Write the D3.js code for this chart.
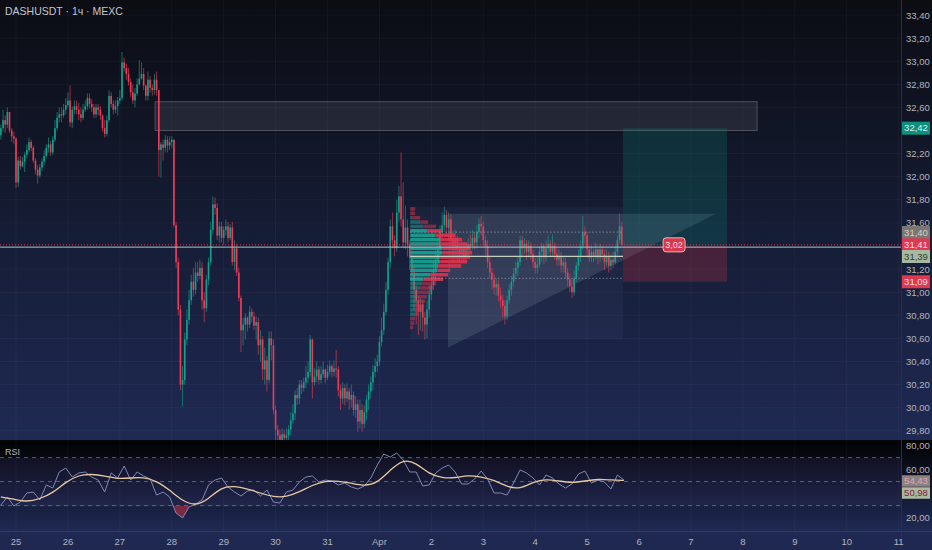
<!DOCTYPE html>
<html>
<head>
<meta charset="utf-8">
<script src="https://cdn.jsdelivr.net/npm/d3@7/dist/d3.min.js"></script>
<style>
  html, body { margin: 0; padding: 0; background: #0b0d13; }
  svg { display: block; font-family: "Liberation Sans", Roboto, sans-serif; }
</style>
</head>
<body>
<div id="chart"></div>
<script>
// hourly candles DASHUSDT, first candle = Mar 24 17:00
var open0 = 32.36;
var closes = [
  32.42,32.49,32.45,32.56,32.40,32.35,32.33,31.95,32.14,32.09,
  32.13,32.19,32.23,32.30,32.25,32.14,32.06,32.01,32.08,32.13,
  32.18,32.25,32.28,32.21,32.32,32.42,32.51,32.54,32.53,32.58,
  32.62,32.66,32.47,32.58,32.61,32.58,32.54,32.51,32.58,32.61,
  32.68,32.63,32.60,32.54,32.60,32.58,32.53,32.42,32.37,32.49,
  32.70,32.63,32.58,32.61,32.66,32.68,32.99,32.94,32.89,32.82,
  32.73,32.66,32.72,32.80,32.85,32.89,32.79,32.70,32.84,32.77,
  32.75,32.84,32.75,32.23,32.28,32.25,32.32,32.27,32.30,32.32,
  31.58,31.26,30.85,30.20,30.24,30.59,30.76,30.93,31.09,31.02,
  31.17,31.14,31.21,30.93,30.86,31.11,31.26,31.54,31.76,31.73,
  31.49,31.57,31.47,31.54,31.57,31.47,31.56,31.26,31.38,31.17,
  30.95,30.67,30.72,30.78,30.72,30.83,30.79,30.71,30.74,30.54,
  30.59,30.33,30.41,30.24,30.60,30.54,29.98,29.81,29.76,29.72,
  29.77,29.74,29.76,29.81,29.89,29.95,30.11,30.08,30.20,30.17,
  30.22,30.26,30.31,30.59,30.22,30.27,30.33,30.24,30.29,30.33,
  30.26,30.31,30.36,30.31,30.34,30.33,30.15,30.08,30.17,30.08,
  30.14,30.07,30.11,29.98,30.03,29.88,29.98,29.86,29.96,30.07,
  30.14,30.22,30.31,30.36,30.40,30.57,30.67,30.83,31.02,31.26,
  31.57,31.45,31.38,31.69,31.83,31.63,31.43,31.56,31.41,31.30,
  31.17,31.02,30.93,30.83,30.89,30.78,30.72,30.85,30.98,31.06,
  31.19,31.26,31.38,31.52,31.58,31.67,31.56,31.63,31.45,31.40,
  31.47,31.37,31.33,31.38,31.31,31.37,31.42,31.40,31.47,31.43,
  31.52,31.59,31.57,31.45,31.40,31.26,31.17,31.11,31.04,31.07,
  30.97,30.93,30.88,30.79,30.93,31.02,31.09,31.16,31.21,31.26,
  31.45,31.38,31.42,31.35,31.40,31.33,31.26,31.21,31.24,31.35,
  31.40,31.30,31.38,31.42,31.35,31.40,31.33,31.28,31.31,31.23,
  31.26,31.17,31.11,31.05,31.00,31.12,31.23,31.31,31.40,31.52,
  31.49,31.37,31.30,31.35,31.31,31.37,31.30,31.37,31.33,31.26,
  31.31,31.23,31.28,31.26,31.35,31.45,31.57,31.41
];
var highs = [
  32.45,32.58,32.53,32.60,32.54,32.42,32.39,32.34,32.17,32.18,
  32.17,32.21,32.28,32.34,32.32,32.27,32.16,32.10,32.11,32.16,
  32.23,32.28,32.34,32.31,32.35,32.49,32.56,32.60,32.60,32.63,
  32.68,32.73,32.79,32.61,32.66,32.66,32.64,32.60,32.63,32.66,
  32.72,32.72,32.67,32.63,32.63,32.63,32.61,32.54,32.49,32.53,
  32.75,32.73,32.66,32.66,32.69,32.75,33.08,33.03,32.98,32.94,
  32.85,32.80,32.77,32.85,33.01,32.99,32.94,32.80,32.91,32.87,
  32.80,32.89,32.91,32.75,32.30,32.32,32.36,32.35,32.35,32.35,
  32.32,31.61,31.30,30.89,30.36,30.65,30.85,31.02,31.15,31.21,
  31.26,31.26,31.28,31.26,31.00,31.15,31.30,31.61,31.83,31.82,
  31.77,31.61,31.61,31.57,31.63,31.61,31.59,31.61,31.45,31.42,
  31.21,30.97,30.78,30.82,30.79,30.88,30.86,30.83,30.79,30.78,
  30.67,30.62,30.52,30.45,30.66,30.66,30.59,30.02,29.85,29.81,
  29.82,29.81,29.82,29.85,29.96,30.03,30.15,30.17,30.24,30.24,
  30.26,30.36,30.40,30.63,30.60,30.34,30.40,30.36,30.36,30.40,
  30.34,30.37,30.41,30.38,30.41,30.50,30.36,30.20,30.22,30.20,
  30.21,30.17,30.20,30.14,30.10,30.07,30.07,30.03,30.02,30.11,
  30.20,30.27,30.37,30.43,30.46,30.62,30.78,30.90,31.09,31.30,
  31.63,31.69,31.49,31.80,31.92,32.21,31.95,31.75,31.63,31.45,
  31.37,31.24,31.06,30.97,30.95,30.93,30.83,30.93,31.06,31.17,
  31.26,31.37,31.49,31.58,31.69,31.74,31.71,31.69,31.67,31.50,
  31.54,31.49,31.41,31.43,31.42,31.42,31.47,31.50,31.54,31.52,
  31.58,31.64,31.66,31.61,31.49,31.45,31.31,31.21,31.16,31.12,
  31.11,31.04,30.98,30.93,30.97,31.07,31.14,31.21,31.26,31.31,
  31.49,31.49,31.47,31.45,31.45,31.43,31.37,31.30,31.31,31.40,
  31.43,31.42,31.45,31.49,31.45,31.50,31.43,31.38,31.37,31.35,
  31.31,31.30,31.21,31.16,31.11,31.19,31.26,31.37,31.45,31.66,
  31.57,31.52,31.40,31.40,31.38,31.43,31.38,31.42,31.40,31.37,
  31.37,31.35,31.33,31.35,31.40,31.49,31.68,31.61
];
var lows = [
  32.32,32.39,32.38,32.42,32.38,32.30,32.28,31.90,31.91,32.06,
  32.08,32.04,32.16,32.21,32.22,32.12,32.02,31.94,31.99,32.05,
  32.10,32.16,32.21,32.18,32.19,32.30,32.40,32.47,32.47,32.51,
  32.54,32.60,32.43,32.42,32.54,32.54,32.49,32.47,32.49,32.56,
  32.58,32.59,32.56,32.51,32.51,32.53,32.49,32.39,32.34,32.35,
  32.47,32.60,32.54,32.55,32.53,32.63,32.66,32.91,32.84,32.79,
  32.69,32.63,32.60,32.70,32.79,32.84,32.75,32.66,32.66,32.73,
  32.70,32.71,32.70,32.00,31.99,32.14,32.21,32.21,32.23,32.25,
  31.56,31.21,30.80,30.15,30.01,30.20,30.54,30.72,30.89,30.96,
  30.98,31.09,31.11,30.85,30.74,30.83,31.06,31.23,31.50,31.67,
  31.45,31.43,31.43,31.41,31.49,31.43,31.45,31.23,31.19,31.14,
  30.92,30.48,30.54,30.59,30.66,30.69,30.74,30.67,30.59,30.46,
  30.40,30.24,30.20,30.14,30.21,30.41,29.94,29.72,29.70,29.68,
  29.69,29.68,29.69,29.72,29.76,29.86,29.89,30.02,30.03,30.12,
  30.14,30.17,30.21,30.27,30.08,30.19,30.22,30.20,30.21,30.26,
  30.21,30.24,30.28,30.26,30.27,30.26,30.10,29.98,30.03,30.02,
  30.05,29.98,30.00,29.93,29.91,29.79,29.82,29.79,29.82,29.89,
  29.98,30.08,30.15,30.26,30.31,30.36,30.53,30.63,30.80,30.98,
  31.21,31.38,31.31,31.35,31.61,31.57,31.38,31.37,31.31,31.19,
  31.02,30.85,30.72,30.63,30.67,30.66,30.59,30.60,30.78,30.93,
  31.02,31.09,31.21,31.30,31.45,31.52,31.50,31.45,31.40,31.28,
  31.32,31.26,31.26,31.28,31.26,31.28,31.30,31.35,31.37,31.37,
  31.38,31.47,31.49,31.40,31.32,31.21,31.12,31.02,30.98,30.97,
  30.92,30.86,30.78,30.72,30.76,30.90,30.97,31.05,31.11,31.14,
  31.23,31.31,31.33,31.28,31.30,31.28,31.21,31.16,31.16,31.21,
  31.26,31.24,31.26,31.33,31.30,31.31,31.28,31.23,31.23,31.17,
  31.17,31.12,31.05,31.00,30.95,30.97,31.09,31.19,31.26,31.37,
  31.42,31.30,31.26,31.26,31.26,31.28,31.24,31.26,31.28,31.19,
  31.23,31.17,31.19,31.21,31.24,31.30,31.42,31.40
];

// RSI every 3 candles, RSI-MA every 6 candles
var rsiStep = 3;
var rsiVals = [30.5,37.2,29.7,33.0,40.5,41.3,34.7,47.2,44.7,58.0,61.3,53.8,57.2,58.0,53.8,51.3,
  41.3,57.2,53.0,63.0,51.3,58.0,54.7,52.2,38.8,41.3,37.2,23.8,19.7,28.8,31.3,34.7,
  47.2,51.3,53.0,45.5,41.3,38.0,42.2,43.0,38.0,43.0,33.0,32.2,41.3,43.0,49.7,53.8,
  54.7,49.7,51.3,50.5,47.2,48.8,45.5,43.8,46.3,53.0,63.8,73.0,70.5,73.8,68.0,58.0,
  58.0,46.3,47.2,57.2,61.3,63.8,58.0,48.0,48.0,52.2,58.8,52.2,40.5,40.5,38.8,48.8,
  59.7,57.2,53.0,47.2,55.5,53.0,48.0,44.7,48.0,56.3,58.8,48.8,51.3,49.7,43.8,55.5,51.3];
var maStep = 6;
var maVals = [37.2,35.5,33.0,35.5,40.5,49.7,55.5,56.3,54.7,52.2,53.0,53.8,50.5,43.0,33.8,29.7,
  35.5,45.5,46.3,43.8,40.5,37.2,37.2,41.3,47.2,50.5,50.5,48.8,46.3,48.8,59.7,68.8,
  65.5,56.3,53.0,53.0,55.5,53.8,51.3,45.5,43.8,49.7,52.2,50.5,48.8,50.5,52.2,51.3,50.98];

// volume profile, rows from 31.74 downwards
var vpTop = 31.74, vpRow = 0.038;
var vpUp   = [0,0,2,10,13,17,25,30,30,32,32,30,30,28,27,20,13,12,10,8,7,7,6,6,5,0,0,0];
var vpDown = [5,5,8,8,13,15,20,22,27,28,30,30,27,23,13,18,20,14,13,12,10,8,8,7,4,5,4,3];

var dayLabels = ["25","26","27","28","29","30","31","Apr","2","3","4","5","6","7","8","9","10","11"];
var priceTicks = [33.4,33.2,33.0,32.8,32.6,32.2,32.0,31.8,31.6,31.2,31.0,30.8,30.6,30.4,30.2,30.0,29.8];
var rsiTicks = [80,60,20];

var W = 932, H = 550, axisX = 901;
var svg = d3.select("#chart").append("svg").attr("width", W).attr("height", H);
var defs = svg.append("defs");

var g1 = defs.append("linearGradient").attr("id", "bgMain").attr("x1", 0).attr("x2", 0).attr("y1", 0).attr("y2", 1);
g1.append("stop").attr("offset", "0%").attr("stop-color", "#0b0d13");
g1.append("stop").attr("offset", "100%").attr("stop-color", "#1f2a54");
var g2 = defs.append("linearGradient").attr("id", "bgRsi").attr("x1", 0).attr("x2", 0).attr("y1", 0).attr("y2", 1);
g2.append("stop").attr("offset", "0%").attr("stop-color", "#020204");
g2.append("stop").attr("offset", "100%").attr("stop-color", "#1f2a54");

defs.append("clipPath").attr("id", "clipPrice").append("rect").attr("x", 0).attr("y", 0).attr("width", axisX).attr("height", 440);

svg.append("rect").attr("width", W).attr("height", 441).attr("fill", "url(#bgMain)");
svg.append("rect").attr("y", 441).attr("width", W).attr("height", 90).attr("fill", "url(#bgRsi)");
svg.append("rect").attr("y", 531).attr("width", W).attr("height", 19).attr("fill", "#1e2850");
svg.append("line").attr("x1", 0).attr("x2", W).attr("y1", 531.5).attr("y2", 531.5).attr("stroke", "#363d55");
svg.append("rect").attr("y", 440).attr("width", W).attr("height", 2).attr("fill", "#050608");

var x = d3.scaleLinear().domain([-0.4, 416.1]).range([0, axisX]);
var y = d3.scaleLinear().domain([29.72, 33.53]).range([440, 0]);
var yR = d3.scaleLinear().domain([20, 80]).range([517.6, 445.6]);
var fmt = function(v) { return d3.format(".2f")(v).replace(".", ","); };

// grid
var dayIdx = dayLabels.map(function(d, k) { return 7 + k * 24; });
var grid = svg.append("g").attr("stroke", "rgba(255,255,255,0.035)");
grid.selectAll(".v").data(dayIdx).enter().append("line")
  .attr("x1", function(d) { return x(d); }).attr("x2", function(d) { return x(d); })
  .attr("y1", 0).attr("y2", 531);
grid.selectAll(".h").data(priceTicks).enter().append("line")
  .attr("x1", 0).attr("x2", axisX).attr("y1", function(d) { return y(d); }).attr("y2", function(d) { return y(d); });

var pane = svg.append("g").attr("clip-path", "url(#clipPrice)");

// supply zone
pane.append("rect").attr("x", x(71.3)).attr("y", y(32.65)).attr("width", x(349.6) - x(71.3)).attr("height", y(32.40) - y(32.65))
  .attr("fill", "rgba(130,133,145,0.17)").attr("stroke", "rgba(150,153,165,0.4)");

// volume profile box
pane.append("rect").attr("x", x(189.2)).attr("y", y(31.74)).attr("width", x(287.6) - x(189.2)).attr("height", y(30.59) - y(31.74))
  .attr("fill", "rgba(120,140,185,0.07)");

// triangle
var tri = [[206.7, 31.68], [330.6, 31.68], [206.7, 30.52]];
pane.append("path").attr("d", d3.line().x(function(d) { return x(d[0]); }).y(function(d) { return y(d[1]); })(tri) + "Z")
  .attr("fill", "rgba(170,185,205,0.16)").attr("stroke", "none");

// candles
var candles = closes.map(function(c, i) {
  return { i: i, o: i ? closes[i - 1] : open0, c: c, h: highs[i], l: lows[i] };
});
var upC = "#14a08a", dnC = "#ef3b55";
var cg = pane.selectAll(".candle").data(candles).enter().append("g");
cg.append("line")
  .attr("x1", function(d) { return x(d.i); }).attr("x2", function(d) { return x(d.i); })
  .attr("y1", function(d) { return y(Math.max(d.h, d.o, d.c)); })
  .attr("y2", function(d) { return y(Math.min(d.l, d.o, d.c)); })
  .attr("stroke", function(d) { return d.c >= d.o ? upC : dnC; }).attr("stroke-width", 0.8).attr("opacity", 0.8);
cg.append("rect")
  .attr("x", function(d) { return x(d.i) - 0.8; }).attr("width", 1.6)
  .attr("y", function(d) { return y(Math.max(d.o, d.c)); })
  .attr("height", function(d) { return Math.max(0.8, Math.abs(y(d.o) - y(d.c))); })
  .attr("fill", function(d) { return d.c >= d.o ? upC : dnC; });

// volume profile rows
var vpW = d3.scaleLinear().domain([0, 62]).range([0, 62]);
var vpX0 = x(189.2);
var rows = vpUp.map(function(u, k) { return { k: k, up: u, dn: vpDown[k], p: vpTop - k * vpRow }; });
var rg = pane.selectAll(".vp").data(rows).enter().append("g")
  .attr("opacity", function(d) { return (d.k >= 5 && d.k <= 16) ? 0.9 : 0.5; });
rg.append("rect").attr("x", vpX0).attr("y", function(d) { return y(d.p) + 0.4; })
  .attr("width", function(d) { return vpW(d.up); }).attr("height", function(d) { return y(d.p - vpRow) - y(d.p) - 0.8; })
  .attr("fill", "#17a593");
rg.append("rect").attr("x", function(d) { return vpX0 + vpW(d.up); }).attr("y", function(d) { return y(d.p) + 0.4; })
  .attr("width", function(d) { return vpW(d.dn); }).attr("height", function(d) { return y(d.p - vpRow) - y(d.p) - 0.8; })
  .attr("fill", "#e0344f");

// value area lines and POC
[31.52, 31.12].forEach(function(p) {
  pane.append("line").attr("x1", vpX0).attr("x2", x(287.6)).attr("y1", y(p)).attr("y2", y(p))
    .attr("stroke", "#9aa0b0").attr("stroke-dasharray", "1.5,2").attr("opacity", 0.7);
});
pane.append("line").attr("x1", vpX0).attr("x2", x(287.6)).attr("y1", y(31.31)).attr("y2", y(31.31))
  .attr("stroke", "#c6d0bf").attr("stroke-width", 1.2);

// long position
pane.append("rect").attr("x", x(287.6)).attr("y", y(32.42)).attr("width", x(335.7) - x(287.6)).attr("height", y(31.40) - y(32.42))
  .attr("fill", "rgba(8,153,129,0.2)");
pane.append("rect").attr("x", x(287.6)).attr("y", y(31.40)).attr("width", x(335.7) - x(287.6)).attr("height", y(31.09) - y(31.40))
  .attr("fill", "rgba(242,54,69,0.22)");

// horizontal lines
pane.append("line").attr("x1", 0).attr("x2", axisX).attr("y1", y(31.39)).attr("y2", y(31.39))
  .attr("stroke", "#b9c0c8").attr("stroke-width", 1);
pane.append("line").attr("x1", 0).attr("x2", axisX).attr("y1", y(31.41)).attr("y2", y(31.41))
  .attr("stroke", "#e0344f").attr("stroke-dasharray", "1,2").attr("opacity", 0.9);

// ratio label
var lb = svg.append("g").attr("transform", "translate(" + x(311.2) + "," + y(31.41) + ")");
lb.append("rect").attr("x", -11).attr("y", -7).attr("width", 22).attr("height", 14).attr("rx", 3)
  .attr("fill", "#d8384f").attr("stroke", "#e9b8bb");
lb.append("text").attr("text-anchor", "middle").attr("dy", 3.5).attr("font-size", 9).attr("fill", "#f8dfe0").text("3,02");

// RSI pane
svg.append("rect").attr("x", 0).attr("y", yR(70)).attr("width", axisX).attr("height", yR(30) - yR(70))
  .attr("fill", "rgba(126,100,210,0.09)");
[70, 50, 30].forEach(function(v) {
  svg.append("line").attr("x1", 0).attr("x2", axisX).attr("y1", yR(v)).attr("y2", yR(v))
    .attr("stroke", "#787b86").attr("stroke-dasharray", "4,4").attr("opacity", 0.75);
});
var rsiPts = rsiVals.map(function(v, k) { return { i: k * rsiStep, v: v }; });
var maPts = maVals.map(function(v, k) { return { i: k * maStep, v: v }; });
defs.append("clipPath").attr("id", "clipOS").append("rect").attr("x", 0).attr("y", yR(30)).attr("width", axisX).attr("height", 40);
svg.append("path").datum(rsiPts).attr("clip-path", "url(#clipOS)")
  .attr("d", d3.area().x(function(d) { return x(d.i); }).y0(yR(30)).y1(function(d) { return yR(d.v); }))
  .attr("fill", "rgba(242,54,69,0.45)");
svg.append("path").datum(rsiPts)
  .attr("d", d3.line().x(function(d) { return x(d.i); }).y(function(d) { return yR(d.v); }))
  .attr("fill", "none").attr("stroke", "#8088b4").attr("stroke-width", 1);
svg.append("path").datum(maPts)
  .attr("d", d3.line().curve(d3.curveBasis).x(function(d) { return x(d.i); }).y(function(d) { return yR(d.v); }))
  .attr("fill", "none").attr("stroke", "#e6c9a2").attr("stroke-width", 1.3);
svg.append("text").attr("x", 5).attr("y", 455).attr("font-size", 9).attr("fill", "#b2b5be").text("RSI");

// axis border
svg.append("line").attr("x1", axisX + 0.5).attr("x2", axisX + 0.5).attr("y1", 0).attr("y2", H).attr("stroke", "#2b3145");

// price axis labels
svg.selectAll(".pt").data(priceTicks).enter().append("text")
  .attr("x", 906).attr("y", function(d) { return y(d) + 3.5; })
  .attr("font-size", 9.5).attr("fill", "#b2b5be").text(fmt);
svg.selectAll(".rt").data(rsiTicks).enter().append("text")
  .attr("x", 906).attr("y", function(d) { return yR(d) + 3.5; })
  .attr("font-size", 9.5).attr("fill", "#b2b5be").text(function(d) { return fmt(d); });

// axis boxes
function tag(cy, txt, bg, fg, h) {
  h = h || 13;
  svg.append("rect").attr("x", axisX + 1).attr("y", cy - h / 2).attr("width", 28).attr("height", h).attr("fill", bg);
  svg.append("text").attr("x", axisX + 15).attr("y", cy + 3.3).attr("text-anchor", "middle")
    .attr("font-size", 9.5).attr("fill", fg).text(txt);
}
tag(y(32.42), "32,42", "#0e8f7f", "#d9f2ee");
tag(232.5, "31,40", "#7b7672", "#d7d0c8");
tag(y(31.41), "31,41", "#df3850", "#fbdde0");
tag(256.5, "31,39", "#a6b8a0", "#34402f");
tag(y(31.09), "31,09", "#df3850", "#fbdde0");
tag(481, "54,43", "#8a8381", "#e2a2b6", 11.5);
tag(493, "50,98", "#a8bb9e", "#8a1636", 11.5);

// time axis labels
svg.selectAll(".tl").data(dayLabels).enter().append("text")
  .attr("x", function(d, k) { return x(dayIdx[k]); }).attr("y", 544.5)
  .attr("text-anchor", "middle").attr("font-size", 9.5).attr("fill", "#b2b5be").text(function(d) { return d; });

// title
svg.append("text").attr("x", 5).attr("y", 14.5).attr("font-size", 10.5).attr("fill", "#c3c6ce").text("DASHUSDT · 1ч · MEXC");
</script>
</body>
</html>
